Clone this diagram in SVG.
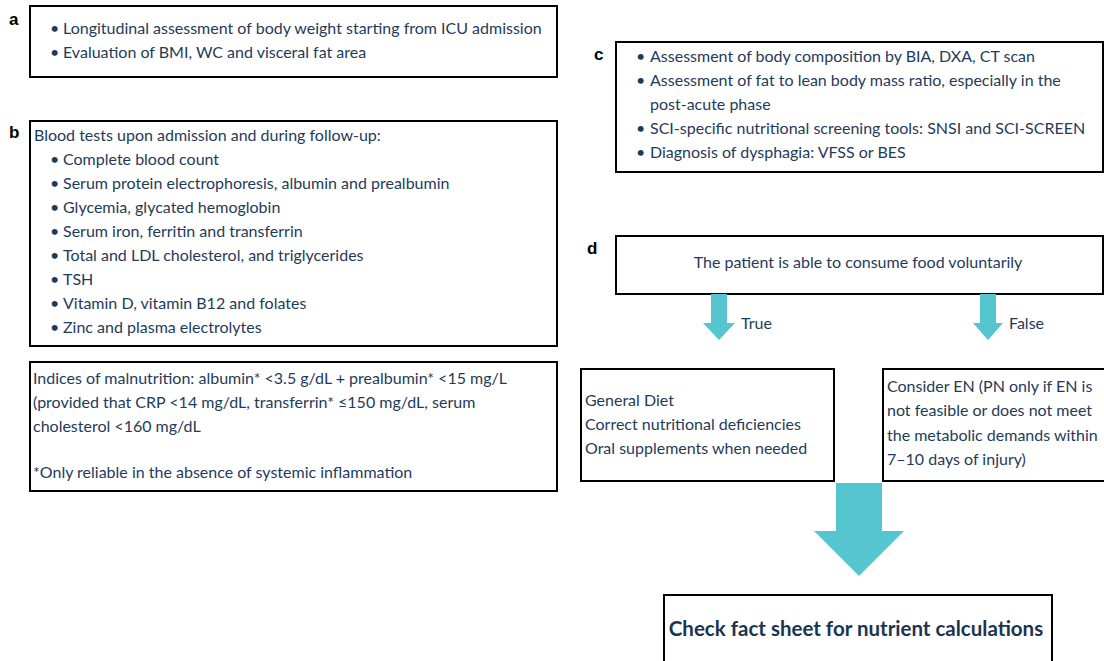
<svg xmlns="http://www.w3.org/2000/svg" width="1104" height="661" viewBox="0 0 1104 661">
<defs>
<style>
.box{fill:#fff;stroke:#000;stroke-width:2}
.t{font-family:Lato,"Open Sans","Liberation Sans",sans-serif;font-size:16px;fill:#1f3b5a}
.lbl{font-family:"Liberation Sans",Arial,sans-serif;font-size:17px;font-weight:bold;fill:#000}
.arrow{fill:#55c5cf}
.big{font-family:Lato,"Open Sans","Liberation Sans",sans-serif;font-size:20.5px;font-weight:bold;fill:#1a3550}
</style>
</defs>
<rect width="1104" height="661" fill="#fff"/>
<g id="node-a">
<text class="lbl" x="9" y="25">a</text>
<rect class="box" x="30" y="6" width="527" height="71"/>
<text class="t" x="50" y="34">•</text><text class="t" x="63" y="34">Longitudinal assessment of body weight starting from ICU admission</text>
<text class="t" x="50" y="58">•</text><text class="t" x="63" y="58">Evaluation of BMI, WC and visceral fat area</text>
</g>
<g id="node-b">
<text class="lbl" x="9" y="138">b</text>
<rect class="box" x="30" y="121" width="527" height="225"/>
<text class="t" x="34" y="141">Blood tests upon admission and during follow-up:</text>
<g>
<text class="t" x="50" y="165">•</text><text class="t" x="63" y="165">Complete blood count</text>
<text class="t" x="50" y="189">•</text><text class="t" x="63" y="189">Serum protein electrophoresis, albumin and prealbumin</text>
<text class="t" x="50" y="213">•</text><text class="t" x="63" y="213">Glycemia, glycated hemoglobin</text>
<text class="t" x="50" y="237">•</text><text class="t" x="63" y="237">Serum iron, ferritin and transferrin</text>
<text class="t" x="50" y="261">•</text><text class="t" x="63" y="261">Total and LDL cholesterol, and triglycerides</text>
<text class="t" x="50" y="285">•</text><text class="t" x="63" y="285">TSH</text>
<text class="t" x="50" y="309">•</text><text class="t" x="63" y="309">Vitamin D, vitamin B12 and folates</text>
<text class="t" x="50" y="333">•</text><text class="t" x="63" y="333">Zinc and plasma electrolytes</text>
</g>
</g>
<g id="node-b2">
<rect class="box" x="30" y="362" width="527" height="129"/>
<text class="t" x="33" y="384">Indices of malnutrition: albumin* &lt;3.5 g/dL + prealbumin* &lt;15 mg/L</text>
<text class="t" x="33" y="408">(provided that CRP &lt;14 mg/dL, transferrin* ≤150 mg/dL, serum</text>
<text class="t" x="33" y="432">cholesterol &lt;160 mg/dL</text>
<text class="t" x="33" y="478">*Only reliable in the absence of systemic inflammation</text>
</g>
<g id="node-c">
<text class="lbl" x="594" y="60">c</text>
<rect class="box" x="616" y="42" width="487" height="130"/>
<text class="t" x="636" y="62">•</text><text class="t" x="650" y="62">Assessment of body composition by BIA, DXA, CT scan</text>
<text class="t" x="636" y="86">•</text><text class="t" x="650" y="86">Assessment of fat to lean body mass ratio, especially in the</text>
<text class="t" x="650" y="110">post-acute phase</text>
<text class="t" x="636" y="134">•</text><text class="t" x="650" y="134">SCI-specific nutritional screening tools: SNSI and SCI-SCREEN</text>
<text class="t" x="636" y="158">•</text><text class="t" x="650" y="158">Diagnosis of dysphagia: VFSS or BES</text>
</g>
<g id="node-d">
<text class="lbl" x="587" y="254">d</text>
<rect class="box" x="616" y="236" width="487" height="58"/>
<text class="t" x="858" y="268" text-anchor="middle">The patient is able to consume food voluntarily</text>
</g>
<g id="node-true">
<rect class="box" x="581" y="369" width="253" height="112"/>
<text class="t" x="585" y="406">General Diet</text>
<text class="t" x="585" y="430">Correct nutritional deficiencies</text>
<text class="t" x="585" y="454">Oral supplements when needed</text>
</g>
<g id="node-false">
<rect class="box" x="883" y="369" width="230" height="112"/>
<text class="t" x="887" y="392">Consider EN (PN only if EN is</text>
<text class="t" x="887" y="416">not feasible or does not meet</text>
<text class="t" x="887" y="441">the metabolic demands within</text>
<text class="t" x="887" y="465">7–10 days of injury)</text>
</g>
<g id="node-final">
<rect class="box" x="664" y="595" width="388" height="80"/>
<text class="big" x="856" y="636" text-anchor="middle">Check fact sheet for nutrient calculations</text>
</g>
<g id="connectors">
<polygon class="arrow" points="711,294 727,294 727,323 735,323 719,340 703,323 711,323"/>
<text class="t" x="741" y="329">True</text>
<polygon class="arrow" points="980,294 996,294 996,323 1003,323 988,340 973,323 980,323"/>
<text class="t" x="1009" y="329">False</text>
<polygon class="arrow" points="836,483 882,483 882,531 904,531 859,576 814,531 836,531"/>
</g>
</svg>
